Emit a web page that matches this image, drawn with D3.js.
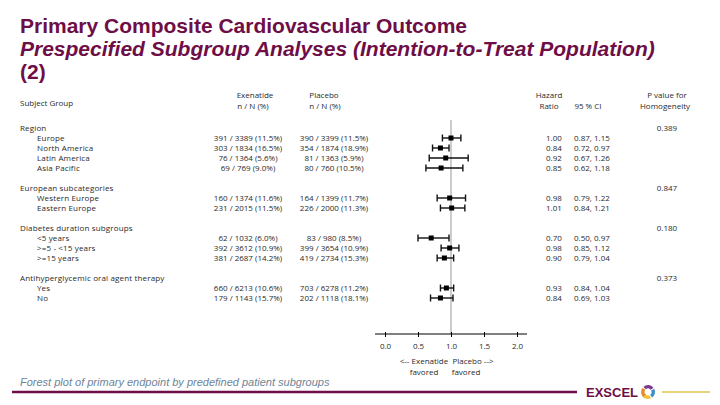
<!DOCTYPE html>
<html><head><meta charset="utf-8">
<script src="https://cdn.jsdelivr.net/npm/d3@7"></script>
<style>body{margin:0;background:#fff}svg{display:block}</style>
</head><body>
<svg id="c" width="720" height="405"></svg>
<script>
// Rows: type h = group header, s = subgroup
const labels = ["Region","Europe","North America","Latin America","Asia Pacific","",
 "European subcategories","Western Europe","Eastern Europe","",
 "Diabetes duration subgroups","<5 years",">=5 - <15 years",">=15 years","",
 "Antihyperglycemic oral agent therapy","Yes","No"];
const rowTypes = ["h","s","s","s","s","","h","s","s","","h","s","s","s","","h","s","s"];
const exenatide = ["","391 / 3389 (11.5%)","303 / 1834 (16.5%)","76 / 1364 (5.6%)","69 / 769 (9.0%)","",
 "","160 / 1374 (11.6%)","231 / 2015 (11.5%)","",
 "","62 / 1032 (6.0%)","392 / 3612 (10.9%)","381 / 2687 (14.2%)","",
 "","660 / 6213 (10.6%)","179 / 1143 (15.7%)"];
const placebo = ["","390 / 3399 (11.5%)","354 / 1874 (18.9%)","81 / 1363 (5.9%)","80 / 760 (10.5%)","",
 "","164 / 1399 (11.7%)","226 / 2000 (11.3%)","",
 "","83 / 980 (8.5%)","399 / 3654 (10.9%)","419 / 2734 (15.3%)","",
 "","703 / 6278 (11.2%)","202 / 1118 (18.1%)"];
const hr   = [null,1.00,0.84,0.92,0.85,null,null,0.98,1.01,null,null,0.70,0.98,0.90,null,null,0.93,0.84];
const ciLo = [null,0.87,0.72,0.67,0.62,null,null,0.79,0.84,null,null,0.50,0.85,0.79,null,null,0.84,0.69];
const ciHi = [null,1.15,0.97,1.26,1.18,null,null,1.22,1.21,null,null,0.97,1.12,1.04,null,null,1.04,1.03];
const pvals = ["0.389","","","","","","0.847","","","","0.180","","","","","0.373","",""];
const xTicks = [0.0,0.5,1.0,1.5,2.0];

const svg = d3.select("#c");
const maroon = "#6e0e47";
const txt = "#2a2a2a";
const F = "'Open Sans', sans-serif";
const FS = 8;

// Title
const title = [["Primary Composite Cardiovascular Outcome","normal",33],
 ["Prespecified Subgroup Analyses (Intention-to-Treat Population)","italic",56],
 ["(2)","normal",79]];
svg.selectAll("text.title").data(title).enter().append("text")
 .attr("x",20).attr("y",d=>d[2]).attr("fill",maroon)
 .attr("font-family","'Liberation Sans', Arial, sans-serif").attr("font-weight","bold")
 .attr("font-size",21).attr("font-style",d=>d[1]).text(d=>d[0]);

const x = d3.scaleLinear().domain([0,2]).range([385,517]);
const y = d3.scaleLinear().domain([0,1]).range([128,138]);

// Column headers
const hdr = svg.append("g").attr("font-family",F).attr("font-size",FS).attr("fill",txt);
hdr.append("text").attr("x",20).attr("y",106).text("Subject Group");
[["Exenatide",255,98],["n / N (%)",253,109],["Placebo",324,98],["n / N (%)",325,109],
 ["Hazard",549,98],["Ratio",549,109],["95 % CI",588,109],
 ["P value for",667,98],["Homogeneity",665,109]].forEach(d=>{
  hdr.append("text").attr("x",d[1]).attr("y",d[2]).attr("text-anchor","middle").text(d[0]);
});

const idx = d3.range(labels.length);
const g = svg.append("g").attr("font-family",F).attr("font-size",FS).attr("fill",txt);
g.selectAll("text.lab").data(idx.filter(i=>labels[i])).enter().append("text")
 .attr("x",i=>rowTypes[i]==="h"?20:37).attr("y",i=>y(i)+3)
 .attr("letter-spacing",0.15).text(i=>labels[i]);
g.selectAll("text.ex").data(idx.filter(i=>exenatide[i])).enter().append("text")
 .attr("x",248).attr("text-anchor","middle").attr("y",i=>y(i)+3).text(i=>exenatide[i]);
g.selectAll("text.pl").data(idx.filter(i=>placebo[i])).enter().append("text")
 .attr("x",334).attr("text-anchor","middle").attr("y",i=>y(i)+3).text(i=>placebo[i]);
const rows = idx.filter(i=>hr[i]!=null);
g.selectAll("text.hr").data(rows).enter().append("text")
 .attr("x",546).attr("y",i=>y(i)+3).text(i=>hr[i].toFixed(2));
g.selectAll("text.ci").data(rows).enter().append("text")
 .attr("x",574).attr("y",i=>y(i)+3).text(i=>ciLo[i].toFixed(2)+", "+ciHi[i].toFixed(2));
g.selectAll("text.pv").data(idx.filter(i=>pvals[i])).enter().append("text")
 .attr("x",667).attr("text-anchor","middle").attr("y",i=>y(i)+3).text(i=>pvals[i]);

// Reference line
svg.append("line").attr("x1",x(1)).attr("x2",x(1)).attr("y1",120).attr("y2",334)
 .attr("stroke","#aaaaaa").attr("stroke-width",1.2);

// Axis
const axisY = 334;
const ax = svg.append("g").attr("transform",`translate(0,${axisY})`)
 .call(d3.axisBottom(x).tickValues(xTicks).tickFormat(d3.format(".1f")).tickSize(3).tickPadding(6));
ax.select(".domain").remove();
ax.append("line").attr("x1",375).attr("x2",527).attr("stroke","#000").attr("stroke-width",1);
ax.selectAll(".tick line").attr("stroke","#000").attr("y1",-2);
ax.selectAll(".tick text").attr("font-family",F).attr("font-size",FS).attr("fill",txt);

const fav = svg.append("g").attr("font-family",F).attr("font-size",FS).attr("fill",txt).attr("text-anchor","middle");
fav.append("text").attr("x",424).attr("y",364).text("<-- Exenatide");
fav.append("text").attr("x",424).attr("y",375).text("favored");
fav.append("text").attr("x",473).attr("y",364).text("Placebo -->");
fav.append("text").attr("x",466).attr("y",375).text("favored");

// CI whiskers
const ci = svg.append("g").attr("stroke","#111").attr("stroke-width",1.4);
ci.selectAll("line.ci").data(rows).enter().append("line")
 .attr("x1",i=>x(ciLo[i])).attr("x2",i=>x(ciHi[i])).attr("y1",i=>y(i)).attr("y2",i=>y(i));
ci.selectAll("line.cl").data(rows).enter().append("line")
 .attr("x1",i=>x(ciLo[i])).attr("x2",i=>x(ciLo[i])).attr("y1",i=>y(i)-3.5).attr("y2",i=>y(i)+3.5);
ci.selectAll("line.ch").data(rows).enter().append("line")
 .attr("x1",i=>x(ciHi[i])).attr("x2",i=>x(ciHi[i])).attr("y1",i=>y(i)-3.5).attr("y2",i=>y(i)+3.5);
svg.selectAll("rect.pt").data(rows).enter().append("rect")
 .attr("x",i=>x(hr[i])-2.5).attr("y",i=>y(i)-2.5).attr("width",5).attr("height",5).attr("fill","#000");

// Footer
svg.append("text").attr("x",20).attr("y",386).attr("font-family","'Liberation Sans', Arial, sans-serif")
 .attr("font-style","italic").attr("font-size",11).attr("fill","#6e8497")
 .text("Forest plot of primary endpoint by predefined patient subgroups");
svg.append("line").attr("x1",12).attr("x2",577).attr("y1",392).attr("y2",392).attr("stroke",maroon).attr("stroke-width",2.5);
svg.append("text").attr("x",586).attr("y",397).attr("font-family","'Liberation Sans', Arial, sans-serif")
 .attr("font-weight","bold").attr("font-size",13).attr("fill",maroon).text("EXSCEL");
const logo = svg.append("g").attr("transform","translate(648,392)");
const arc = d3.arc().innerRadius(3.5).outerRadius(7);
[["#e8892b",-2.6,-0.9],["#7c3a8c",-0.7,0.9],["#3b8fc8",1.1,2.5],["#f1c232",2.7,3.9]].forEach(d=>{
 logo.append("path").attr("d",arc({startAngle:d[1],endAngle:d[2]})).attr("fill",d[0]);
});
svg.append("line").attr("x1",662).attr("x2",710).attr("y1",392).attr("y2",392).attr("stroke","#ead27a").attr("stroke-width",2);
</script>
</body></html>
